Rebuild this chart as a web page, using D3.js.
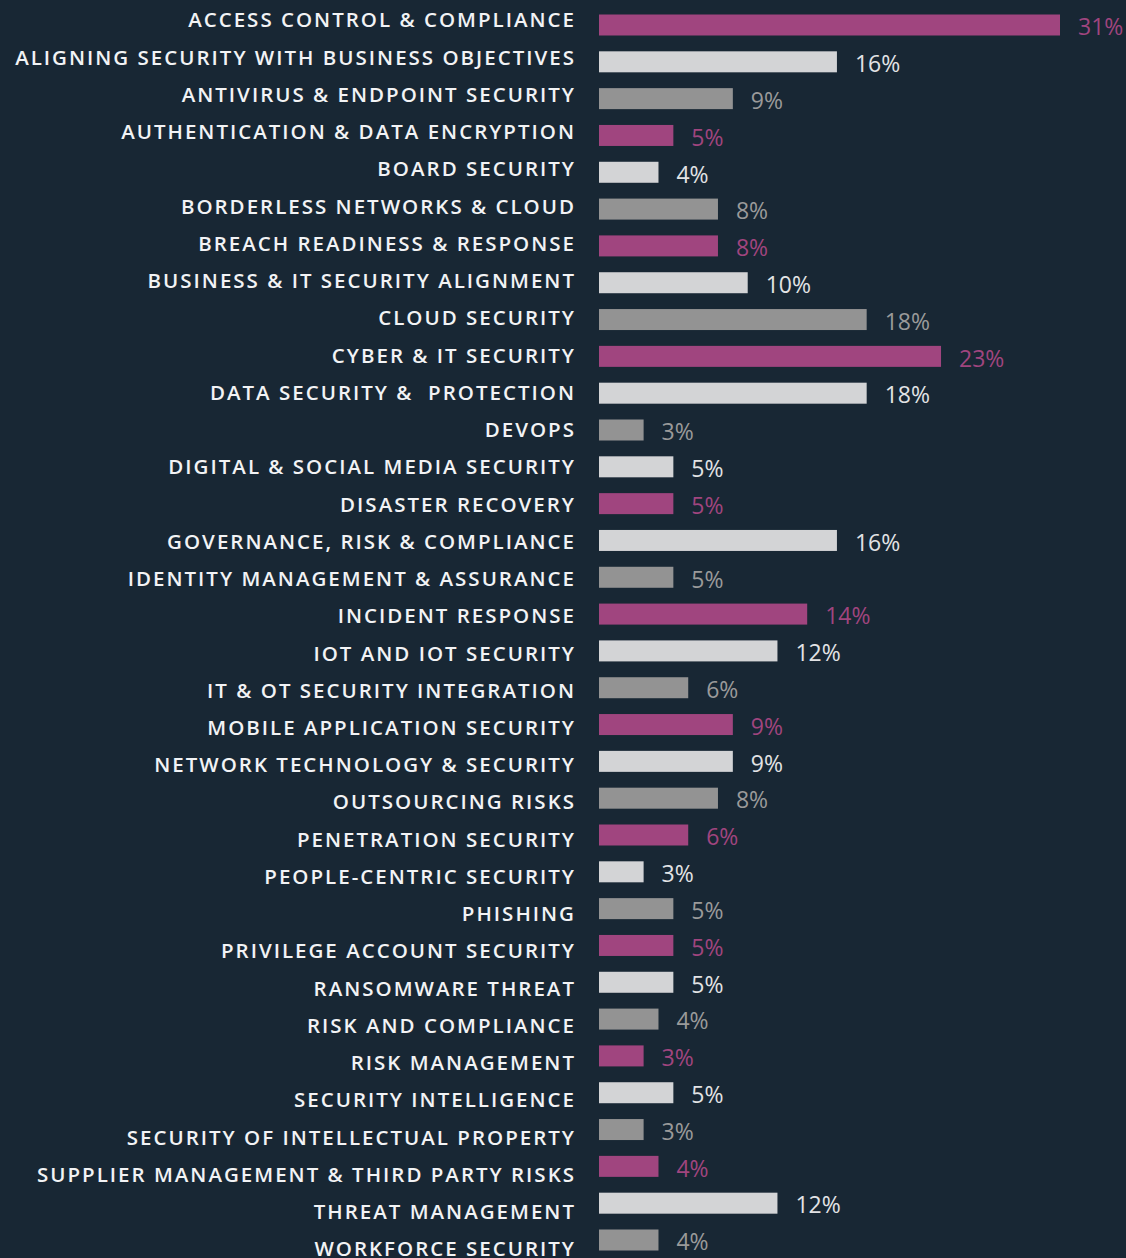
<!DOCTYPE html>
<html>
<head>
<meta charset="utf-8">
<script src="https://cdn.jsdelivr.net/npm/d3@7"></script>
<style>
  html, body { margin: 0; padding: 0; background: #182734; }
  #chart { width: 1126px; height: 1258px; }
</style>
</head>
<body>
<div id="chart"></div>
<script>
// Topics and share of respondents (%)
const TOPICS = [
  'ACCESS CONTROL & COMPLIANCE',
  'ALIGNING SECURITY WITH BUSINESS OBJECTIVES',
  'ANTIVIRUS & ENDPOINT SECURITY',
  'AUTHENTICATION & DATA ENCRYPTION',
  'BOARD SECURITY',
  'BORDERLESS NETWORKS & CLOUD',
  'BREACH READINESS & RESPONSE',
  'BUSINESS & IT SECURITY ALIGNMENT',
  'CLOUD SECURITY',
  'CYBER & IT SECURITY',
  'DATA SECURITY &  PROTECTION',
  'DEVOPS',
  'DIGITAL & SOCIAL MEDIA SECURITY',
  'DISASTER RECOVERY',
  'GOVERNANCE, RISK & COMPLIANCE',
  'IDENTITY MANAGEMENT & ASSURANCE',
  'INCIDENT RESPONSE',
  'IOT AND IOT SECURITY',
  'IT & OT SECURITY INTEGRATION',
  'MOBILE APPLICATION SECURITY',
  'NETWORK TECHNOLOGY & SECURITY',
  'OUTSOURCING RISKS',
  'PENETRATION SECURITY',
  'PEOPLE-CENTRIC SECURITY',
  'PHISHING',
  'PRIVILEGE ACCOUNT SECURITY',
  'RANSOMWARE THREAT',
  'RISK AND COMPLIANCE',
  'RISK MANAGEMENT',
  'SECURITY INTELLIGENCE',
  'SECURITY OF INTELLECTUAL PROPERTY',
  'SUPPLIER MANAGEMENT & THIRD PARTY RISKS',
  'THREAT MANAGEMENT',
  'WORKFORCE SECURITY'
];

const VALUES = [31, 16, 9, 5, 4, 8, 8, 10, 18, 23, 18, 3, 5, 5, 16, 5, 14, 12, 6, 9, 9, 8, 6, 3, 5, 5, 5, 4, 3, 5, 3, 4, 12, 4];

// Colour group of each bar: m = magenta, l = light grey, g = mid grey
const GROUPS = [
  'm', 'l', 'g', 'm', 'l', 'g', 'm', 'l', 'g', 'm', 'l', 'g',
  'l', 'm', 'l', 'g', 'm', 'l', 'g', 'm', 'l', 'g', 'm', 'l',
  'g', 'm', 'l', 'g', 'm', 'l', 'g', 'm', 'l', 'g'
];

const BAR_COLORS = { m: '#a0457f', l: '#d3d4d6', g: '#939393' };
const LABEL_COLORS = { m: '#a0457f', l: '#e2e3e5', g: '#9a9a9a' };

const width = 1126;
const height = 1258;

const svg = d3.select('#chart')
  .append('svg')
  .attr('width', width)
  .attr('height', height);

svg.append('rect')
  .attr('width', width)
  .attr('height', height)
  .attr('fill', '#182734');

const data = TOPICS.map((t, i) => ({ topic: t, value: VALUES[i], group: GROUPS[i] }));

const x = d3.scaleLinear()
  .domain([0, 31])
  .range([599, 1060]);

// bars and their labels drift slightly apart in the source
const yBar = d3.scalePoint().domain(TOPICS).range([25, 1240]);
const yText = d3.scalePoint().domain(TOPICS).range([20, 1249]);

const barH = 21;

svg.append('g')
  .selectAll('rect')
  .data(data)
  .join('rect')
  .attr('x', x(0))
  .attr('y', d => yBar(d.topic) - barH / 2)
  .attr('width', d => x(d.value) - x(0))
  .attr('height', barH)
  .attr('fill', d => BAR_COLORS[d.group]);

// Category labels
svg.append('g')
  .selectAll('text')
  .data(data)
  .join('text')
  .attr('x', 576)
  .attr('y', d => yText(d.topic))
  .attr('dy', '0.36em')
  .attr('text-anchor', 'end')
  .attr('font-family', '"Open Sans", sans-serif')
  .attr('font-size', 20.5)
  .attr('font-weight', 600)
  .attr('letter-spacing', '2px')
  .attr('fill', '#f2f3f5')
  .style('white-space', 'pre')
  .text(d => d.topic);

// Value labels
svg.append('g')
  .selectAll('text')
  .data(data)
  .join('text')
  .attr('x', d => x(d.value) + 18)
  .attr('y', d => yBar(d.topic) + 2)
  .attr('dy', '0.36em')
  .attr('font-family', '"Open Sans", sans-serif')
  .attr('font-size', 23)
  .attr('font-weight', 500)
  .attr('fill', d => LABEL_COLORS[d.group])
  .text(d => d.value + '%');
</script>
</body>
</html>
